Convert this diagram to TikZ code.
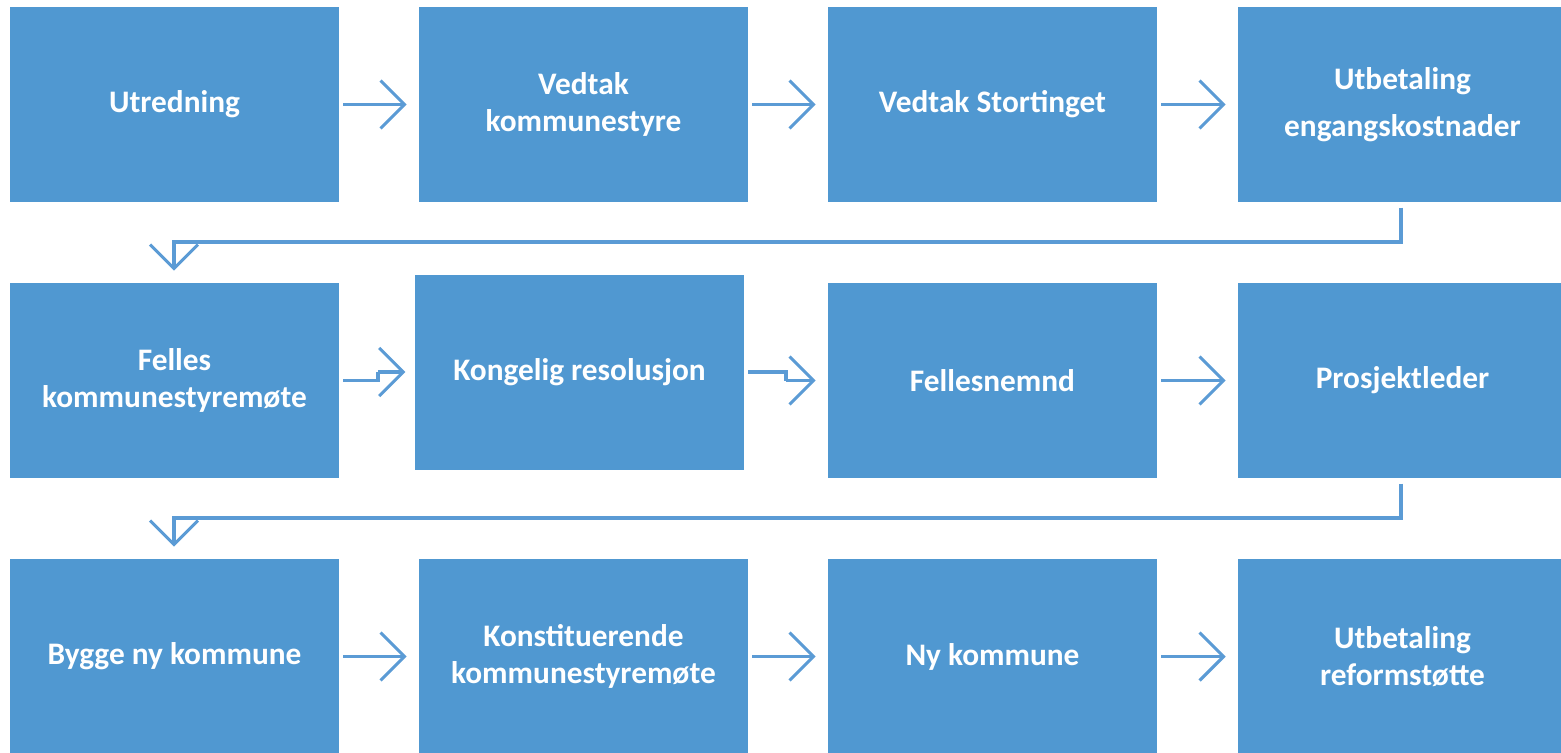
\documentclass[tikz,border=0pt]{standalone}
\usepackage{fontspec}
\setmainfont{Carlito}
\usetikzlibrary{arrows.meta}
\definecolor{boxblue}{HTML}{5098D1}
\definecolor{lineblue}{HTML}{5B9BD5}
\tikzset{
  box/.style={fill=boxblue, draw=none, text=white, inner sep=0pt,
    minimum width=246.75pt, minimum height=146.25pt, align=center,
    font=\fontsize{23.5}{27.5}\selectfont\bfseries},
  flow/.style={draw=lineblue, line width=2.3pt,
    -{Straight Barb[length=18pt, width=36pt, line width=2.3pt]}},
}
\begin{document}
\begin{tikzpicture}[x=0.75pt, y=-0.75pt]
\useasboundingbox (0,0) rectangle (1561,753);
% row 1
\node[box] (u) at (174.5,104.5) {Utredning};
\node[box] (vk) at (583.5,104.5) {Vedtak\\kommunestyre};
\node[box] (vs) at (992.5,104.5) {Vedtak Stortinget};
\node[box] (ue) at (1402.5,104.5) {Utbetaling\\[8pt]engangskostnader};
% row 2
\node[box] (fk) at (174.5,380.5) {Felles\\kommunestyremøte};
\node[box] (kr) at (579.5,372) {Kongelig resolusjon};
\node[box] (fn) at (992.5,380.5) {Fellesnemnd};
\node[box] (pl) at (1402.5,380.5) {Prosjektleder};
% row 3
\node[box] (bk) at (174.5,656.5) {Bygge ny kommune};
\node[box] (kk) at (583.5,656.5) {Konstituerende\\kommunestyremøte};
\node[box] (nk) at (992.5,656.5) {Ny kommune};
\node[box] (ur) at (1402.5,656.5) {Utbetaling\\reformstøtte};
% horizontal arrows
\draw[flow, shorten <=3pt, shorten >=9pt] (u.east) -- (vk.west);
\draw[flow, shorten <=3pt, shorten >=9pt] (vk.east) -- (vs.west);
\draw[flow, shorten <=3pt, shorten >=9pt] (vs.east) -- (ue.west);
\draw[flow, shorten <=3pt, shorten >=9pt] (fn.east) -- (pl.west);
\draw[flow, shorten <=3pt, shorten >=9pt] (bk.east) -- (kk.west);
\draw[flow, shorten <=3pt, shorten >=9pt] (kk.east) -- (nk.west);
\draw[flow, shorten <=3pt, shorten >=9pt] (nk.east) -- (ur.west);
% jogged arrows in row 2
\coordinate (j1) at (378,380.5);
\coordinate (j1b) at (378,372);
\draw[flow, -, shorten <=3pt] (fk.east) -- (j1) -- (j1b);
\draw[flow, shorten >=7pt] (j1b) -- (kr.west);
\coordinate (j2) at (786,372);
\coordinate (j2b) at (786,380.5);
\draw[flow, -, shorten <=3pt] (kr.east) -- (j2) -- (j2b);
\draw[flow, shorten >=9pt] (j2b) -- (fn.west);
% wrap connectors
\coordinate (c1) at (1401,242);
\coordinate (c2) at (174,242);
\draw[flow, shorten <=4pt, shorten >=9pt] (ue.south -| c1) -- (c1) -- (c2) -- (fk.north -| c2);
\coordinate (c3) at (1401,518);
\coordinate (c4) at (174,518);
\draw[flow, shorten <=4pt, shorten >=9pt] (pl.south -| c3) -- (c3) -- (c4) -- (bk.north -| c4);
\end{tikzpicture}
\end{document}
